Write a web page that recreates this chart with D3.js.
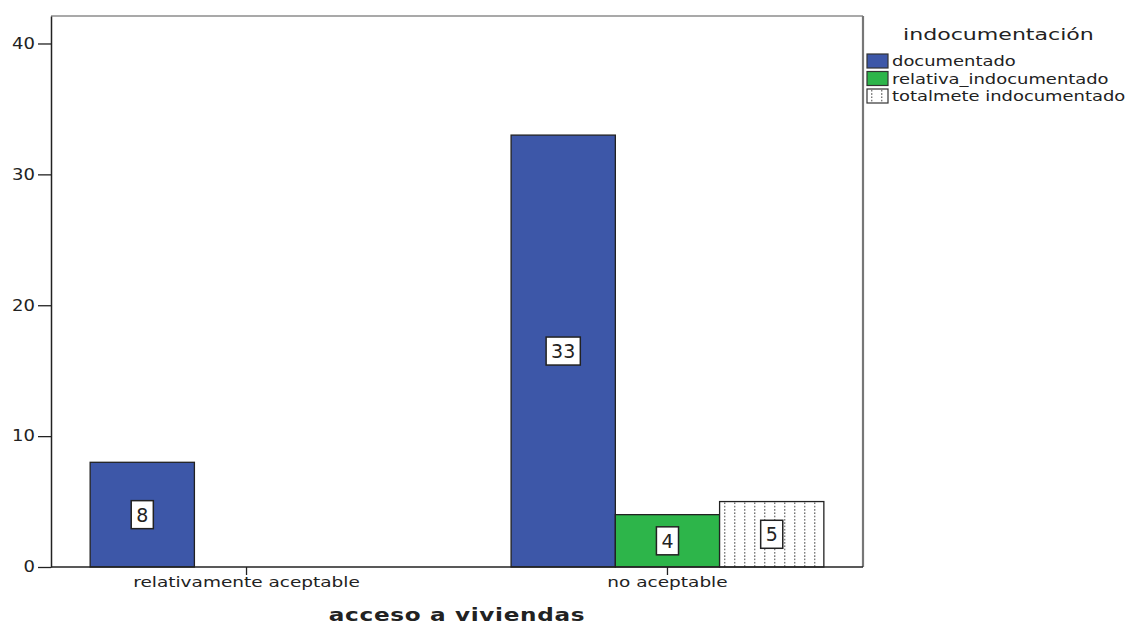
<!DOCTYPE html>
<html>
<head>
<meta charset="utf-8">
<script src="https://cdn.jsdelivr.net/npm/d3@7"></script>
<style>
  body { margin: 0; background: #fff; }
  text { font-family: "DejaVu Sans", Verdana, sans-serif; fill: #222; }
</style>
</head>
<body>
<div id="chart"></div>
<script>
// categories and series
const categories = ["relativamente aceptable", "no aceptable"];
const seriesNames = ["documentado", "relativa_indocumentado", "totalmete indocumentado"];
const documentado = [8, 33];
const relativaIndoc = [0, 4];
const totalIndoc = [0, 5];
const yTicks = [0, 10, 20, 30, 40];

const seriesColors = ["#3d57a8", "#2db54a", "url(#dots)"];

const width = 1130, height = 625;
const margin = {top: 16, right: 267, bottom: 58, left: 51};

const svg = d3.select("#chart").append("svg")
    .attr("width", width)
    .attr("height", height);

// dotted pattern for the third series
const pat = svg.append("defs").append("pattern")
    .attr("id", "dots")
    .attr("patternUnits", "userSpaceOnUse")
    .attr("width", 10).attr("height", 3.3);
pat.append("rect").attr("width", 10).attr("height", 3.3).attr("fill", "#fff");
pat.append("rect").attr("x", 4).attr("y", 1).attr("width", 1.4).attr("height", 1.4).attr("fill", "#666");

const x = d3.scaleBand()
    .domain(categories)
    .range([margin.left, width - margin.right])
    .paddingInner(0.257)
    .paddingOuter(0.093);

const xs = d3.scaleBand()
    .domain(seriesNames)
    .range([0, x.bandwidth()]);

const y = d3.scaleLinear()
    .domain([0, 42.1])
    .range([height - margin.bottom, margin.top]);

// the picture's text is wider than the font, stretch it
function widen(sel, k) {
    sel.each(function() {
        const w = this.getComputedTextLength();
        d3.select(this).attr("textLength", w * k).attr("lengthAdjust", "spacingAndGlyphs");
    });
}

// frame: top and right edges
svg.append("line")
    .attr("x1", margin.left).attr("x2", width - margin.right)
    .attr("y1", margin.top).attr("y2", margin.top)
    .attr("stroke", "#555").attr("stroke-width", 1.2);
svg.append("line")
    .attr("x1", width - margin.right).attr("x2", width - margin.right)
    .attr("y1", margin.top).attr("y2", height - margin.bottom)
    .attr("stroke", "#777").attr("stroke-width", 2.2);

// bars
const rows = [documentado, relativaIndoc, totalIndoc];
const barData = [];
categories.forEach((c, i) => {
    seriesNames.forEach((s, j) => {
        if (rows[j][i] > 0) barData.push({cat: c, series: s, idx: j, value: rows[j][i]});
    });
});

const bars = svg.append("g").selectAll("g")
    .data(barData)
    .enter().append("g");

bars.append("rect")
    .attr("x", d => x(d.cat) + xs(d.series))
    .attr("y", d => y(d.value))
    .attr("width", xs.bandwidth())
    .attr("height", d => y(0) - y(d.value))
    .attr("fill", d => seriesColors[d.idx])
    .attr("stroke", "#222")
    .attr("stroke-width", 1.3);

// value labels in white boxes
bars.each(function(d) {
    const g = d3.select(this);
    const cx = x(d.cat) + xs(d.series) + xs.bandwidth() / 2;
    const cy = (y(d.value) + y(0)) / 2;
    const t = g.append("text")
        .attr("x", cx).attr("y", cy)
        .attr("dy", "0.37em")
        .attr("text-anchor", "middle")
        .attr("font-size", 19)
        .text(d.value);
    const w = t.node().getComputedTextLength();
    g.insert("rect", "text")
        .attr("x", cx - w / 2 - 5)
        .attr("y", cy - 14)
        .attr("width", w + 10)
        .attr("height", 28)
        .attr("fill", "#fff")
        .attr("stroke", "#222")
        .attr("stroke-width", 1.5);
});

// y axis
const yAxis = svg.append("g")
    .attr("transform", `translate(${margin.left},0)`)
    .call(d3.axisLeft(y).tickValues(yTicks).tickSize(13).tickPadding(3).tickSizeOuter(0));
yAxis.select(".domain").attr("stroke", "#222").attr("stroke-width", 1.5);
yAxis.selectAll(".tick line").attr("stroke", "#222").attr("stroke-width", 1.3);
yAxis.selectAll(".tick text").attr("font-size", 15).attr("font-family", "DejaVu Sans").attr("fill", "#222");
yAxis.selectAll(".tick text").call(widen, 1.2);

// x axis
const xAxis = svg.append("g")
    .attr("transform", `translate(0,${y(0)})`)
    .call(d3.axisBottom(x).tickSize(8).tickPadding(2).tickSizeOuter(0));
xAxis.select(".domain").attr("stroke", "#222").attr("stroke-width", 1.5)
    .attr("d", `M${margin.left},0H${width - margin.right}`);
xAxis.selectAll(".tick line").attr("stroke", "#222").attr("stroke-width", 1.3);
xAxis.selectAll(".tick text").attr("font-size", 14).attr("font-family", "DejaVu Sans").attr("fill", "#222");
xAxis.selectAll(".tick text").call(widen, 1.32);

// x axis title
svg.append("text")
    .attr("x", (margin.left + width - margin.right) / 2)
    .attr("y", height - 4)
    .attr("text-anchor", "middle")
    .attr("font-size", 17)
    .attr("font-weight", "bold")
    .attr("letter-spacing", 0.5)
    .text("acceso a viviendas")
    .call(widen, 1.36);

// legend
const legend = svg.append("g")
    .attr("transform", `translate(${width - margin.right + 4},0)`);
legend.append("text")
    .attr("x", 36).attr("y", 40)
    .attr("font-size", 16)
    .text("indocumentación")
    .call(widen, 1.38);

const item = legend.selectAll(".item")
    .data(seriesNames)
    .enter().append("g")
    .attr("class", "item")
    .attr("transform", (d, i) => `translate(0,${54 + i * 17.5})`);
item.append("rect")
    .attr("width", 21).attr("height", 14)
    .attr("fill", (d, i) => seriesColors[i])
    .attr("stroke", "#333").attr("stroke-width", 1.2);
item.append("text")
    .attr("x", 25).attr("y", 7)
    .attr("dy", "0.36em")
    .attr("font-size", 14)
    .text(d => d)
    .call(widen, 1.28);
</script>
</body>
</html>
